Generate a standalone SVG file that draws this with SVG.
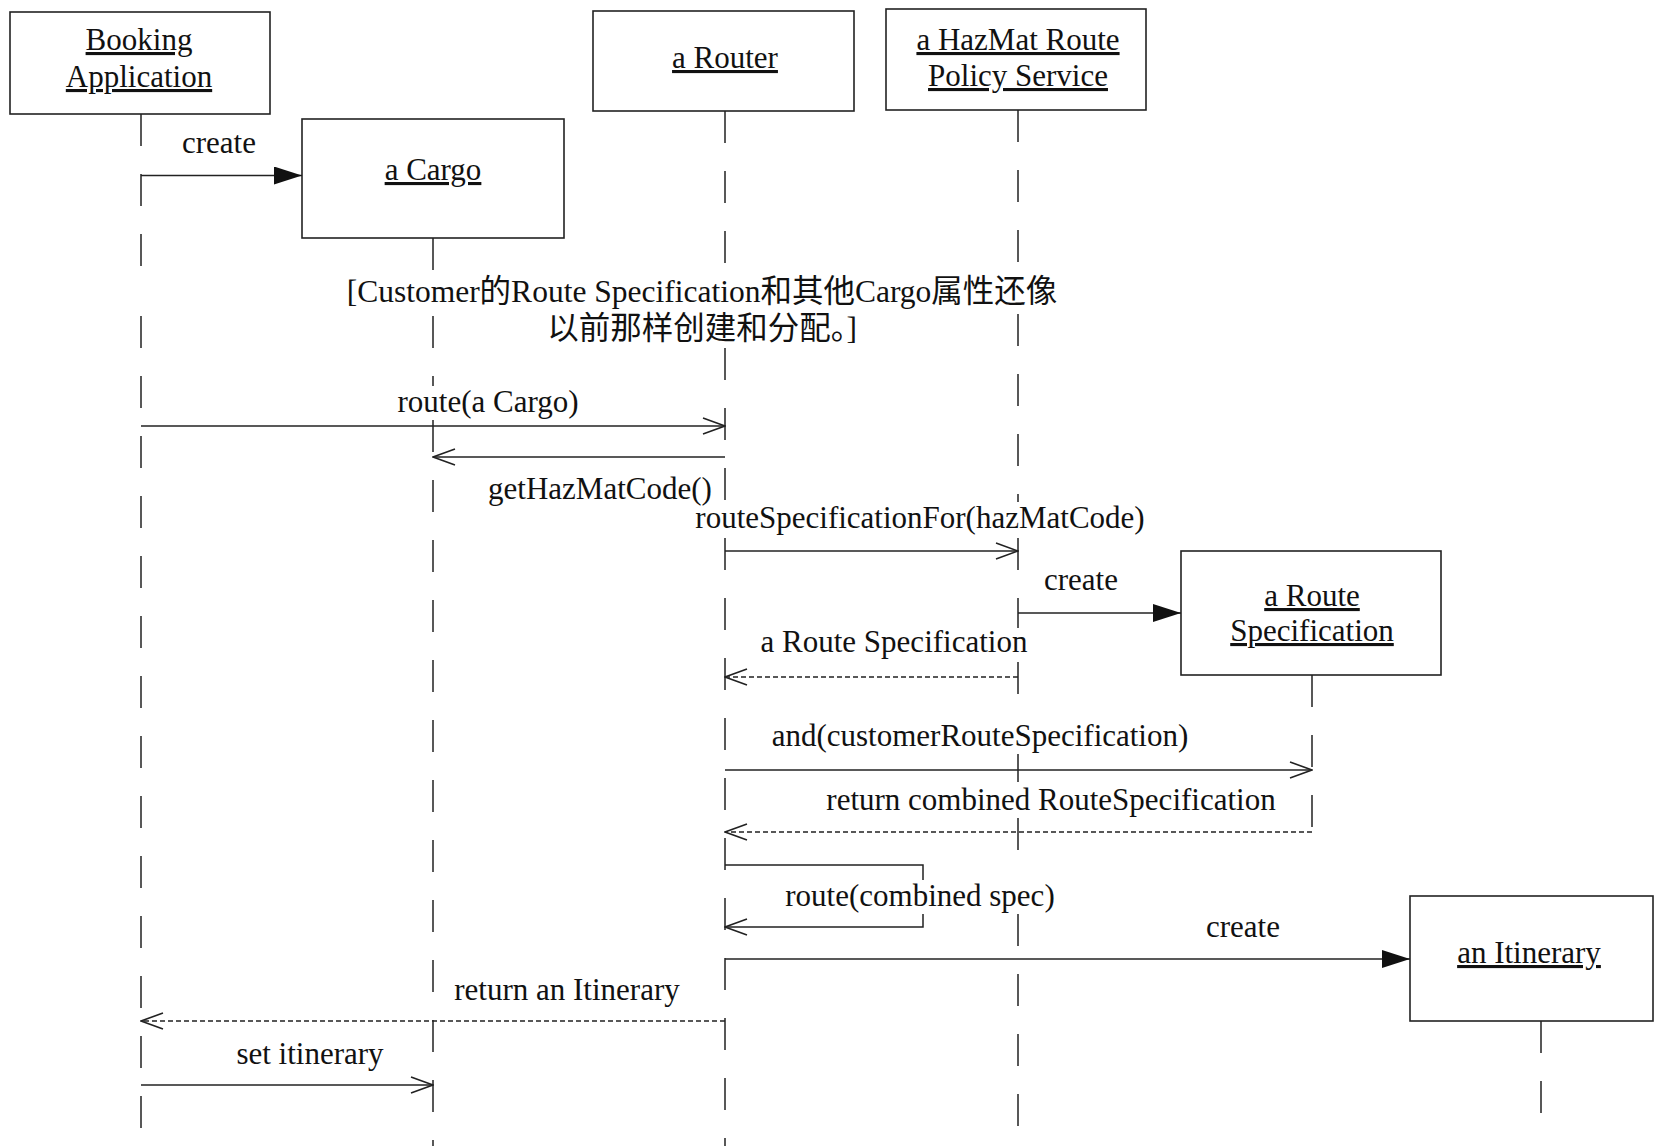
<svg xmlns="http://www.w3.org/2000/svg" width="1658" height="1146" viewBox="0 0 1658 1146">
<style>
text{font-family:"Liberation Serif","Noto Sans CJK SC",serif;font-size:31px;fill:#111;}
.nm{text-anchor:middle;text-decoration:underline;}
.lbl{text-anchor:middle;paint-order:stroke;stroke:#fff;stroke-width:5px;stroke-linejoin:round;}
.note{font-size:31.5px;}
.box{fill:#fff;stroke:#222;stroke-width:1.6;}
.life{stroke:#222;stroke-width:1.5;stroke-dasharray:32 28;fill:none;}
.msg{stroke:#222;stroke-width:1.5;fill:none;}
.ret{stroke:#222;stroke-width:1.4;fill:none;stroke-dasharray:5 3;}
</style>
<defs>
<marker id="open" viewBox="0 0 24 18" refX="23" refY="9" markerWidth="24" markerHeight="18" orient="auto" markerUnits="userSpaceOnUse"><path d="M1,1 L23,9 L1,17" fill="none" stroke="#222" stroke-width="1.6"/></marker>
<marker id="filled" viewBox="0 0 28 18" refX="28" refY="9" markerWidth="28" markerHeight="18" orient="auto" markerUnits="userSpaceOnUse"><path d="M0,0 L28,9 L0,18 Z" fill="#111"/></marker>
</defs>
<rect width="1658" height="1146" fill="#fff"/>
<g id="lifelines">
<path class="life" d="M141,114 V272 M141,316 V1146"/>
<path class="life" d="M433,238 V272 M433,316 V386 M433,420 V1146"/>
<path class="life" d="M725,111 V272 M725,348 V500 M725,538 V1146"/>
<path class="life" d="M1018,110 V272 M1018,314 V502 M1018,538 V628 M1018,662 V720 M1018,754 V782 M1018,818 V878 M1018,914 V1146"/>
<path class="life" d="M1312,675 V832"/>
<path class="life" d="M1541,1021 V1115"/>
</g>
<g id="node-booking">
<rect class="box" x="10" y="12" width="260" height="102"/>
<text class="nm" x="139" y="50">Booking</text>
<text class="nm" x="139" y="87">Application</text>
</g>
<g id="node-cargo">
<rect class="box" x="302" y="119" width="262" height="119"/>
<text class="nm" x="433" y="180">a Cargo</text>
</g>
<g id="node-router">
<rect class="box" x="593" y="11" width="261" height="100"/>
<text class="nm" x="725" y="68">a Router</text>
</g>
<g id="node-hazmat">
<rect class="box" x="886" y="9" width="260" height="101"/>
<text class="nm" x="1018" y="50">a HazMat Route</text>
<text class="nm" x="1018" y="86">Policy Service</text>
</g>
<g id="node-routespec">
<rect class="box" x="1181" y="551" width="260" height="124"/>
<text class="nm" x="1312" y="606">a Route</text>
<text class="nm" x="1312" y="641">Specification</text>
</g>
<g id="node-itinerary">
<rect class="box" x="1410" y="896" width="243" height="125"/>
<text class="nm" x="1529" y="963">an Itinerary</text>
</g>
<g id="note">
<text class="lbl note" x="702" y="302">[Customer的Route Specification和其他Cargo属性还像</text>
<text class="lbl note" x="702" y="339">以前那样创建和分配。]</text>
</g>
<g id="connectors">
<line class="msg" x1="141" y1="175.5" x2="302" y2="175.5" marker-end="url(#filled)"/>
<text class="lbl" x="219" y="153">create</text>
<line class="msg" x1="141" y1="426" x2="725" y2="426" marker-end="url(#open)"/>
<text class="lbl" x="488" y="412">route(a Cargo)</text>
<line class="msg" x1="725" y1="457" x2="433" y2="457" marker-end="url(#open)"/>
<text class="lbl" x="600" y="499">getHazMatCode()</text>
<line class="msg" x1="725" y1="551" x2="1018" y2="551" marker-end="url(#open)"/>
<text class="lbl" x="920" y="528">routeSpecificationFor(hazMatCode)</text>
<line class="msg" x1="1018" y1="613" x2="1181" y2="613" marker-end="url(#filled)"/>
<text class="lbl" x="1081" y="590">create</text>
<line class="ret" x1="1018" y1="677" x2="725" y2="677" marker-end="url(#open)"/>
<text class="lbl" x="894" y="652">a Route Specification</text>
<line class="msg" x1="725" y1="770" x2="1312" y2="770" marker-end="url(#open)"/>
<text class="lbl" x="980" y="746">and(customerRouteSpecification)</text>
<line class="ret" x1="1312" y1="832" x2="725" y2="832" marker-end="url(#open)"/>
<text class="lbl" x="1051" y="810">return combined RouteSpecification</text>
<path class="msg" d="M725,865 L923,865 L923,880 M923,914 L923,927 L725,927" marker-end="url(#open)"/>
<text class="lbl" x="920" y="906">route(combined spec)</text>
<line class="msg" x1="725" y1="959" x2="1410" y2="959" marker-end="url(#filled)"/>
<text class="lbl" x="1243" y="937">create</text>
<line class="ret" x1="725" y1="1021" x2="141" y2="1021" marker-end="url(#open)"/>
<text class="lbl" x="567" y="1000">return an Itinerary</text>
<line class="msg" x1="141" y1="1085" x2="433" y2="1085" marker-end="url(#open)"/>
<text class="lbl" x="310" y="1064">set itinerary</text>
</g>
</svg>
